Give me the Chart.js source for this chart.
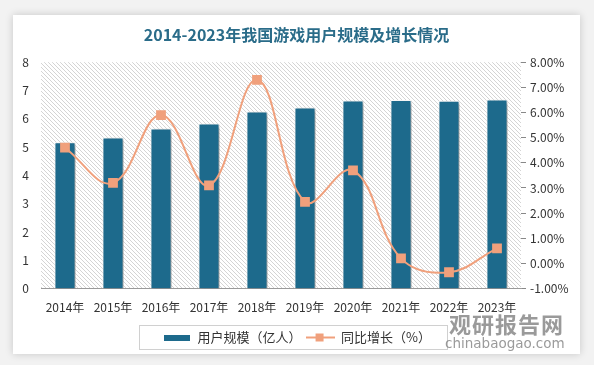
<!DOCTYPE html>
<html>
<head>
<meta charset="utf-8">
<script src="https://cdn.jsdelivr.net/npm/chart.js@4.4.0/dist/chart.umd.min.js"></script>
<style>
  body { margin: 0; background: #f2f2f2; width: 594px; height: 365px; overflow: hidden; position: relative; }
  #card { position: absolute; left: 13px; top: 15px; width: 567px; height: 339px; background: #fff; box-shadow: 0 0 8px rgba(0,0,0,0.18); }
  #mark1 { position: absolute; left: 449px; top: 307px; font: bold 22px "Noto Sans CJK SC", sans-serif; color: rgba(120,120,120,0.75); letter-spacing: 1px; }
  #mark2 { position: absolute; left: 445px; top: 335px; font: 13.5px "DejaVu Sans", sans-serif; color: rgba(120,120,120,0.75); }
</style>
</head>
<body>
<div id="card"><canvas id="myChart" width="567" height="339"></canvas></div>
<div id="mark1">观研报告网</div>
<div id="mark2">chinabaogao.com</div>
<script>
const years = ["2014年", "2015年", "2016年", "2017年", "2018年", "2019年", "2020年", "2021年", "2022年", "2023年"];
const users = [5.17, 5.34, 5.66, 5.83, 6.26, 6.40, 6.65, 6.66, 6.64, 6.68]; // 亿人
const growth = [4.6, 3.2, 5.9, 3.1, 7.3, 2.45, 3.7, 0.2, -0.35, 0.6]; // %

const barColor = "#1d6a8c";
const lineColor = "#f0a07c";
const font = "'Noto Sans CJK SC', sans-serif";

// hatched background for plot area
const tile = document.createElement("canvas");
tile.width = 4; tile.height = 4;
const tctx = tile.getContext("2d");
tctx.fillStyle = "#fff";
tctx.fillRect(0, 0, 4, 4);
tctx.fillStyle = "#d4d4d4";
for (let i = 0; i < 4; i++) tctx.fillRect(i, i, 1, 1);

// legend icons
const barIcon = document.createElement("canvas");
barIcon.width = 26; barIcon.height = 6;
barIcon.getContext("2d").fillStyle = barColor;
barIcon.getContext("2d").fillRect(0, 0, 26, 6);

const lineIcon = document.createElement("canvas");
lineIcon.width = 29; lineIcon.height = 10;
const lctx = lineIcon.getContext("2d");
lctx.strokeStyle = lineColor; lctx.lineWidth = 2;
lctx.beginPath(); lctx.moveTo(0, 5); lctx.lineTo(29, 5); lctx.stroke();
lctx.fillStyle = lineColor;
lctx.fillRect(10, 1, 8, 8);

const plotBg = {
  id: "plotBg",
  beforeDraw(chart) {
    const { ctx, chartArea: a } = chart;
    ctx.save();
    ctx.fillStyle = ctx.createPattern(tile, "repeat");
    ctx.fillRect(a.left, a.top, a.right - a.left, a.bottom - a.top);
    ctx.restore();
  }
};

const barShadow = {
  id: "barShadow",
  beforeDatasetDraw(chart, args) {
    if (args.index !== 0) return;
    const ctx = chart.ctx;
    ctx.save();
    ctx.shadowColor = "rgba(0,0,0,0.35)";
    ctx.shadowBlur = 4;
    ctx.shadowOffsetX = 3;
    ctx.shadowOffsetY = 2;
  },
  afterDatasetDraw(chart, args) {
    if (args.index !== 0) return;
    chart.ctx.restore();
  }
};

const legendBox = {
  id: "legendBox",
  afterDraw(chart) {
    const lg = chart.legend;
    if (!lg || !lg.legendHitBoxes.length) return;
    const boxes = lg.legendHitBoxes;
    const left = Math.min(...boxes.map(b => b.left)) - 23;
    const right = Math.max(...boxes.map(b => b.left + b.width)) + 16;
    const top = boxes[0].top - 6;
    const h = boxes[0].height + 11;
    const ctx = chart.ctx;
    ctx.save();
    ctx.strokeStyle = "#d0d0d0";
    ctx.lineWidth = 1;
    ctx.strokeRect(Math.round(left) + 0.5, Math.round(top) + 0.5, Math.round(right - left), Math.round(h));
    ctx.restore();
  }
};

new Chart(document.getElementById("myChart"), {
  type: "bar",
  data: {
    labels: years,
    datasets: [
      {
        label: "用户规模（亿人）",
        data: users,
        backgroundColor: barColor,
        borderColor: "#ffffff",
        borderWidth: 1,
        barPercentage: 0.44,
        categoryPercentage: 1,
        yAxisID: "y",
        order: 2
      },
      {
        type: "line",
        label: "同比增长（%）",
        data: growth,
        borderColor: lineColor,
        backgroundColor: lineColor,
        borderWidth: 2,
        tension: 0.4,
        pointStyle: "rect",
        pointRadius: 5.5,
        pointHoverRadius: 5.5,
        yAxisID: "y1",
        order: 1
      }
    ]
  },
  options: {
    responsive: false,
    animation: false,
    layout: { padding: { left: 0, right: 0, top: 0, bottom: 0 } },
    plugins: {
      title: {
        display: true,
        text: "2014-2023年我国游戏用户规模及增长情况",
        color: "#2a6c89",
        font: { family: font, size: 16, weight: "bold" },
        padding: { top: 10, bottom: 18 }
      },
      legend: {
        position: "bottom",
        labels: {
          color: "#333",
          font: { family: font, size: 13 },
          usePointStyle: true,
          pointStyleWidth: 29,
          boxHeight: 10,
          padding: 4,
          generateLabels(chart) {
            return chart.data.datasets.map((ds, i) => ({
              text: ds.label,
              pointStyle: i === 0 ? barIcon : lineIcon,
              fillStyle: ds.backgroundColor,
              strokeStyle: ds.backgroundColor,
              lineWidth: 0,
              fontColor: "#333",
              datasetIndex: i
            }));
          }
        }
      },
      tooltip: { enabled: false }
    },
    scales: {
      x: {
        grid: { display: false, drawTicks: false },
        border: { color: "#9a9a9a", width: 1 },
        ticks: { color: "#333", font: { family: font, size: 12 }, padding: 12, maxRotation: 0 }
      },
      y: {
        position: "left",
        min: 0,
        max: 8,
        ticks: { stepSize: 1, color: "#333", font: { family: font, size: 12 }, padding: 12 },
        grid: { display: false, drawTicks: false },
        border: { display: false },
        afterFit(s) { s.width = 28; }
      },
      y1: {
        position: "right",
        min: -1,
        max: 8,
        ticks: {
          stepSize: 1,
          color: "#333",
          font: { family: font, size: 12 },
          padding: 4,
          callback: v => v.toFixed(2) + "%"
        },
        grid: { drawOnChartArea: false, tickLength: 5, color: "#888" },
        border: { display: false },
        afterFit(s) { s.width = 59; }
      }
    }
  },
  plugins: [plotBg, barShadow, legendBox]
});
</script>
</body>
</html>
